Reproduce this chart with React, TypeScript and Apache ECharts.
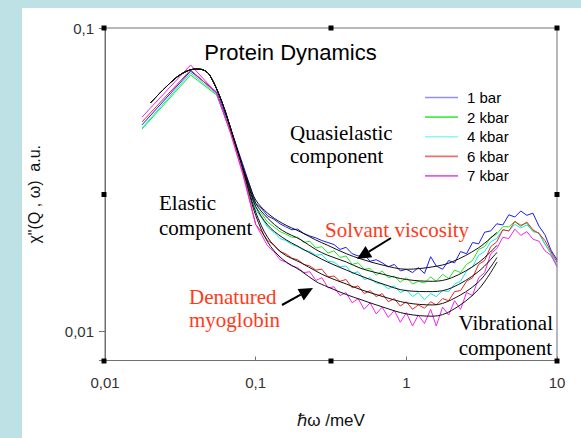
import React, { useEffect, useRef } from 'react';
import * as echarts from 'echarts';

// Energy transfer (meV) of the measured spectra
const energy = [
  0.0176, 0.037, 0.055, 0.068, 0.082,
  0.1, 0.11, 0.12, 0.132, 0.145, 0.158, 0.174, 0.19, 0.209, 0.229,
  0.251, 0.275, 0.302, 0.331, 0.363, 0.398, 0.437, 0.479, 0.525, 0.575,
  0.631, 0.692, 0.759, 0.832, 0.912, 1, 1.1, 1.2, 1.32, 1.45,
  1.58, 1.74, 1.91, 2.09, 2.29, 2.51, 2.75, 3.02, 3.31, 3.63,
  3.98, 4.37, 4.79, 5.25, 5.75, 6.31, 6.92, 7.59, 8.32, 9.12, 10,
];

// Susceptibility chi''(Q, w) at each pressure
const chi1bar = [
  0.0479, 0.0721, 0.0615, 0.0468, 0.0356,
  0.0264, 0.0253, 0.0240, 0.0234, 0.0226, 0.0221, 0.0216, 0.0217, 0.0210, 0.0206,
  0.0203, 0.0199, 0.0196, 0.0193, 0.0186, 0.0189, 0.0180, 0.0177, 0.0179, 0.0170,
  0.0172, 0.0168, 0.0163, 0.0166, 0.0158, 0.0160, 0.0156, 0.0162, 0.0155, 0.0176,
  0.0164, 0.0160, 0.0171, 0.0168, 0.0183, 0.0180, 0.0196, 0.0194, 0.0212, 0.0214,
  0.0226, 0.0224, 0.0242, 0.0238, 0.0249, 0.0241, 0.0245, 0.0222, 0.0208, 0.0185, 0.0172,
];
const chi2kbar = [
  0.0464, 0.0700, 0.0601, 0.0457, 0.0348,
  0.0256, 0.0243, 0.0229, 0.0221, 0.0213, 0.0209, 0.0204, 0.0204, 0.0196, 0.0198,
  0.0188, 0.0190, 0.0181, 0.0184, 0.0175, 0.0177, 0.0166, 0.0168, 0.0160, 0.0161,
  0.0153, 0.0158, 0.0150, 0.0152, 0.0145, 0.0150, 0.0143, 0.0146, 0.0144, 0.0151,
  0.0146, 0.0154, 0.0149, 0.0159, 0.0156, 0.0166, 0.0171, 0.0186, 0.0190, 0.0204,
  0.0209, 0.0221, 0.0221, 0.0230, 0.0224, 0.0227, 0.0213, 0.0211, 0.0194, 0.0180, 0.0165,
];
const chi4kbar = [
  0.0468, 0.0711, 0.0606, 0.0457, 0.0345,
  0.0251, 0.0236, 0.0220, 0.0212, 0.0202, 0.0199, 0.0193, 0.0190, 0.0185, 0.0183,
  0.0178, 0.0179, 0.0170, 0.0169, 0.0163, 0.0164, 0.0155, 0.0157, 0.0148, 0.0150,
  0.0144, 0.0143, 0.0138, 0.0141, 0.0134, 0.0137, 0.0130, 0.0134, 0.0127, 0.0133,
  0.0130, 0.0136, 0.0135, 0.0143, 0.0146, 0.0158, 0.0163, 0.0178, 0.0183, 0.0197,
  0.0202, 0.0216, 0.0214, 0.0225, 0.0219, 0.0224, 0.0215, 0.0210, 0.0193, 0.0181, 0.0164,
];
const chi6kbar = [
  0.0490, 0.0727, 0.0610, 0.0454, 0.0335,
  0.0225, 0.0212, 0.0199, 0.0193, 0.0183, 0.0180, 0.0174, 0.0172, 0.0166, 0.0164,
  0.0159, 0.0160, 0.0151, 0.0152, 0.0146, 0.0148, 0.0139, 0.0141, 0.0133, 0.0136,
  0.0130, 0.0133, 0.0125, 0.0128, 0.0121, 0.0125, 0.0118, 0.0122, 0.0119, 0.0125,
  0.0122, 0.0128, 0.0126, 0.0135, 0.0136, 0.0146, 0.0150, 0.0166, 0.0171, 0.0190,
  0.0197, 0.0216, 0.0214, 0.0230, 0.0222, 0.0229, 0.0216, 0.0210, 0.0199, 0.0183, 0.0169,
];
const chi7kbar = [
  0.0508, 0.0755, 0.0610, 0.0450, 0.0330,
  0.0225, 0.0207, 0.0191, 0.0183, 0.0172, 0.0169, 0.0164, 0.0162, 0.0156, 0.0157,
  0.0147, 0.0150, 0.0139, 0.0140, 0.0131, 0.0134, 0.0124, 0.0128, 0.0118, 0.0124,
  0.0114, 0.0120, 0.0111, 0.0117, 0.0107, 0.0115, 0.0104, 0.0113, 0.0106, 0.0118,
  0.0104, 0.0120, 0.0113, 0.0126, 0.0118, 0.0134, 0.0131, 0.0150, 0.0156, 0.0180,
  0.0187, 0.0204, 0.0202, 0.0217, 0.0207, 0.0213, 0.0201, 0.0198, 0.0184, 0.0178, 0.0163,
];

// Model fits (elastic + quasielastic + vibrational components)
const fitEnergy = [
  0.02, 0.025, 0.03, 0.035, 0.04, 0.045, 0.05, 0.06, 0.07, 0.08,
  0.09, 0.1, 0.12, 0.15, 0.2, 0.25, 0.3, 0.4, 0.5, 0.7, 1, 1.5, 2, 3, 4,
];
const fitPeak = [0.0566, 0.0634, 0.0689, 0.0721, 0.0732, 0.0727, 0.0694, 0.0566, 0.0447, 0.0361];
const fit1bar = [...fitPeak, 0.0308, 0.0271, 0.0245, 0.0227, 0.0212, 0.0200, 0.0192, 0.0180, 0.0173, 0.0165, 0.0160, 0.0163, 0.0169, 0.0188, 0.0212];
const fit2kbar = [...fitPeak, 0.0303, 0.0264, 0.0236, 0.0215, 0.0200, 0.0186, 0.0178, 0.0169, 0.0161, 0.0154, 0.0148, 0.0146, 0.0150, 0.0168, 0.0192];
const fit4kbar = [...fitPeak, 0.0299, 0.0258, 0.0224, 0.0204, 0.0188, 0.0177, 0.0169, 0.0159, 0.0152, 0.0143, 0.0136, 0.0135, 0.0139, 0.0157, 0.0182];
const fit6kbar = [...fitPeak, 0.0292, 0.0247, 0.0204, 0.0181, 0.0168, 0.0158, 0.0151, 0.0143, 0.0137, 0.0130, 0.0124, 0.0122, 0.0127, 0.0145, 0.0175];
const fit7kbar = [...fitPeak, 0.0288, 0.0241, 0.0197, 0.0173, 0.0158, 0.0146, 0.0140, 0.0132, 0.0127, 0.0120, 0.0114, 0.0112, 0.0117, 0.0137, 0.0169];

const pressures = ['1 bar', '2 kbar', '4 kbar', '6 kbar', '7 kbar'];
const measured = [chi1bar, chi2kbar, chi4kbar, chi6kbar, chi7kbar];
const fits = [fit1bar, fit2kbar, fit4kbar, fit6kbar, fit7kbar];
const lineColors = ['#1c1cf0', '#22e622', '#14e6e6', '#ec2424', '#f522f5'];
const legendColors = ['#8f8ff5', '#4bea4b', '#8ff5f5', '#f07070', '#e65ae6'];

const SANS = '"Liberation Sans", Arial, sans-serif';
const SERIF = '"Liberation Serif", "Times New Roman", serif';

const zip = (xs: number[], ys: number[]) => xs.map((x, i) => [x, ys[i]]);

const decadeLabel = (v: number) => {
  const e = Math.round(Math.log10(v));
  if (Math.abs(Math.log10(v) - e) > 1e-6) return '';
  if (e < 0) return '0,' + '0'.repeat(-e - 1) + '1';
  return String(Math.pow(10, e));
};

const arrow = (tail: number[], tip: number[], base: number[], w1: number[], w2: number[]) => [
  { type: 'line', shape: { x1: tail[0], y1: tail[1], x2: base[0], y2: base[1] }, style: { stroke: '#000', lineWidth: 2 }, z: 30 },
  { type: 'polygon', shape: { points: [tip, w1, w2] }, style: { fill: '#000' }, z: 30 },
];

const note = (text: string, x: number, y: number, color = '#000', align = 'left') => ({
  type: 'text',
  x,
  y,
  z: 30,
  style: { text, fill: color, font: `21px ${SERIF}`, textAlign: align, textVerticalAlign: 'middle' },
});

const handle = (x: number, y: number) => ({
  type: 'rect',
  shape: { x: x - 2.5, y: y - 2.5, width: 5, height: 5 },
  style: { fill: '#000' },
  z: 40,
});

export default function App() {
  const ref = useRef<HTMLDivElement>(null);

  useEffect(() => {
    if (!ref.current) return;
    const chart = echarts.init(ref.current, undefined, { renderer: 'svg' });

    const series: any[] = [];
    pressures.forEach((name, i) => {
      series.push({
        name,
        type: 'line',
        data: zip(energy, measured[i]),
        showSymbol: false,
        symbol: 'none',
        lineStyle: { color: lineColors[i], width: 1 },
        itemStyle: { color: lineColors[i] },
        z: 2,
      });
    });
    pressures.forEach((name, i) => {
      series.push({
        name: 'fit ' + name,
        type: 'line',
        data: zip(fitEnergy, fits[i]),
        showSymbol: false,
        symbol: 'none',
        smooth: 0.35,
        lineStyle: { color: '#111', width: 1 },
        z: 3,
      });
    });

    chart.setOption({
      animation: false,
      backgroundColor: 'transparent',
      title: {
        text: 'Protein Dynamics',
        left: 'center',
        top: 36,
        textStyle: { fontFamily: SANS, fontSize: 22, fontWeight: 'normal', color: '#000' },
      },
      legend: {
        orient: 'vertical',
        left: 420,
        top: 85,
        itemWidth: 33,
        itemHeight: 12,
        itemGap: 4.6,
        selectedMode: false,
        textStyle: { fontFamily: SANS, fontSize: 15, color: '#000', lineHeight: 15, padding: [0, 0, 0, 4] },
        data: pressures.map((name, i) => ({
          name,
          icon: 'path://M0,0H40V2H0Z',
          itemStyle: { color: legendColors[i] },
        })),
      },
      grid: {
        left: 105,
        right: 24,
        top: 28,
        bottom: 77.5,
        show: true,
        borderColor: '#707070',
        borderWidth: 1,
        backgroundColor: 'transparent',
      },
      xAxis: {
        type: 'log',
        min: 0.01,
        max: 10,
        name: 'ℏω /meV',
        nameLocation: 'middle',
        nameGap: 51,
        nameTextStyle: { fontFamily: SANS, fontSize: 17, color: '#111' },
        axisLine: { lineStyle: { color: '#707070' } },
        axisTick: { inside: true, length: 4, lineStyle: { color: '#707070' } },
        minorTick: { show: false },
        splitLine: { show: false },
        axisLabel: { fontFamily: SANS, fontSize: 15, color: '#333', margin: 14, formatter: decadeLabel },
      },
      yAxis: {
        type: 'log',
        min: 0.008,
        max: 0.1,
        name: 'χ"(Q , ω)\u00a0\u00a0a.u.',
        nameLocation: 'middle',
        nameRotate: 90,
        nameGap: 63,
        nameTextStyle: { fontFamily: SANS, fontSize: 16, color: '#111' },
        axisLine: { lineStyle: { color: '#707070' } },
        axisTick: { inside: false, length: 6, lineStyle: { color: '#707070' } },
        splitLine: { show: false },
        axisLabel: { fontFamily: SANS, fontSize: 15, color: '#333', margin: 11, formatter: decadeLabel },
      },
      graphic: [
        note('Quasielastic', 290, 133),
        note('component', 290, 156),
        note('Elastic', 159, 203),
        note('component', 159, 228),
        note('Solvant viscosity', 325, 230, '#ff3a1a'),
        note('Denatured', 189, 297, '#ff3a1a'),
        note('myoglobin', 189, 320, '#ff3a1a'),
        note('Vibrational', 553, 323, '#000', 'right'),
        note('component', 552, 348, '#000', 'right'),
        ...arrow([391, 238], [357, 259], [368.9, 251.7], [372.3, 257.2], [365.5, 246.1]),
        ...arrow([282, 305], [313, 288], [300.7, 294.7], [303.8, 300.4], [297.6, 289.0]),
        handle(104, 28),
        handle(331, 28),
        handle(557, 28),
        handle(104, 194.5),
        handle(557, 194.5),
        handle(104, 361),
        handle(331, 361),
        handle(557, 361),
      ],
      series,
    });

    return () => chart.dispose();
  }, []);

  return (
    <div style={{ position: 'fixed', left: 0, top: 0, width: 581, height: 438, background: '#bde1e4' }}>
      <div style={{ position: 'absolute', left: 22, top: 8, right: 0, bottom: 0, background: '#fff' }} />
      <div ref={ref} style={{ position: 'absolute', left: 0, top: 0, width: 581, height: 438 }} />
    </div>
  );
}
